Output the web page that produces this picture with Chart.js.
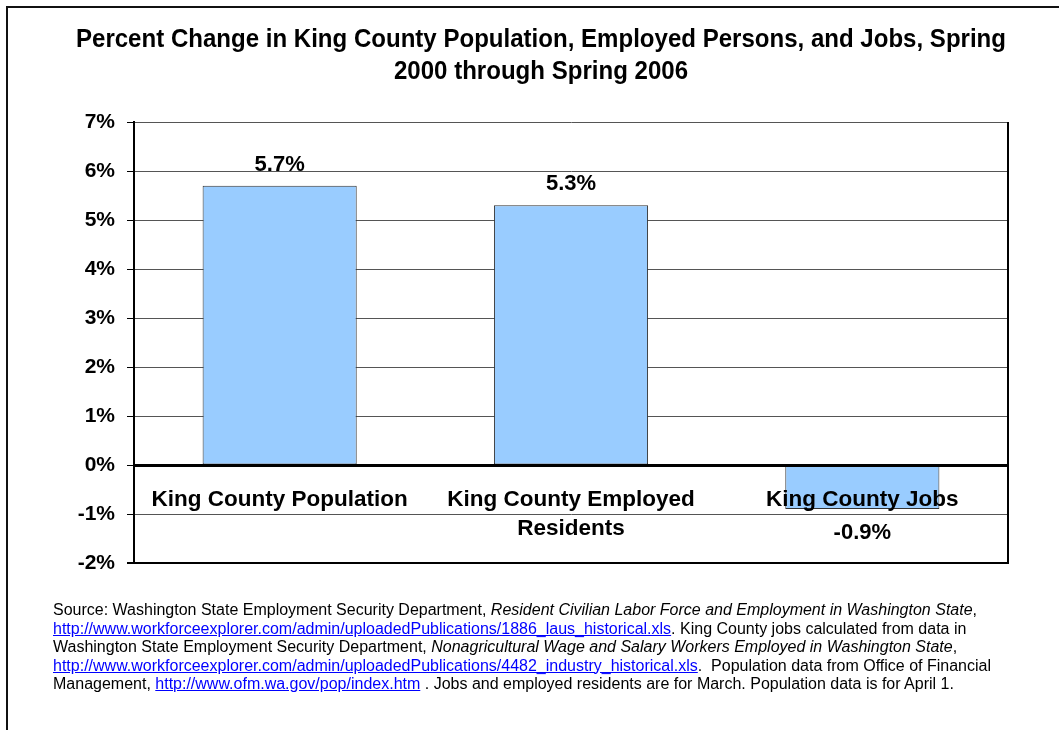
<!DOCTYPE html>
<html>
<head>
<meta charset="utf-8">
<script src="https://cdn.jsdelivr.net/npm/chart.js@4.4.1/dist/chart.umd.min.js"></script>
<style>
  html, body { margin:0; padding:0; background:#fff; width:1059px; height:730px; overflow:hidden; }
  #frame { position:absolute; left:6px; top:6px; width:1100px; height:800px; border:2px solid #111; box-sizing:border-box; }
  #chart { position:absolute; left:0; top:0; }
  #title { position:absolute; left:0; width:1082px; top:22px; text-align:center; transform:scaleX(0.925); transform-origin:541px 0;
    font-family:"Liberation Sans",Arial,sans-serif; font-weight:bold; font-size:26px; line-height:32px; color:#000; }
  #note { position:absolute; left:53px; top:601px; font-family:"Liberation Sans",Arial,sans-serif; font-size:16px; line-height:18.5px; color:#000; white-space:nowrap; }
  #note a { color:#0000ff; text-decoration:underline; }
</style>
</head>
<body>
<div id="frame"></div>
<canvas id="chart" width="1059" height="730"></canvas>
<div id="title">Percent Change in King County Population, Employed Persons, and Jobs, Spring<br>2000 through Spring 2006</div>
<div id="note">Source: Washington State Employment Security Department, <i>Resident Civilian Labor Force and Employment in Washington State</i>,<br><a href="#">http://www.workforceexplorer.com/admin/uploadedPublications/1886_laus_historical.xls</a>. King County jobs calculated from data in<br>Washington State Employment Security Department, <i>Nonagricultural Wage and Salary Workers Employed in Washington State</i>,<br><a href="#">http://www.workforceexplorer.com/admin/uploadedPublications/4482_industry_historical.xls</a>.&nbsp; Population data from Office of Financial<br>Management, <a href="#">http://www.ofm.wa.gov/pop/index.htm</a> . Jobs and employed residents are for March. Population data is for April 1.</div>
<script>
const categories = [["King County Population"], ["King County Employed", "Residents"], ["King County Jobs"]];
const percentChange = [5.7, 5.3, -0.9];
const yTickValues = [-2, -1, 0, 1, 2, 3, 4, 5, 6, 7];

const FONT = '"Liberation Sans", Arial, sans-serif';

const valueLabels = {
  id: 'valueLabels',
  afterDatasetsDraw(chart) {
    const ctx = chart.ctx;
    const meta = chart.getDatasetMeta(0);
    ctx.save();
    ctx.font = 'bold 22px ' + FONT;
    ctx.fillStyle = '#000';
    ctx.textAlign = 'center';
    ctx.textBaseline = 'middle';
    meta.data.forEach((bar, i) => {
      const v = percentChange[i];
      const y = v >= 0 ? bar.y - 21 : bar.y + 24;
      ctx.fillText(v.toFixed(1) + '%', bar.x, y);
    });
    ctx.restore();
  }
};

const frameRight = {
  id: 'frameRight',
  afterDraw(chart) {
    const {ctx, chartArea} = chart;
    ctx.save();
    ctx.strokeStyle = '#000';
    ctx.lineWidth = 2;
    ctx.beginPath();
    ctx.moveTo(chartArea.right, chartArea.top);
    ctx.lineTo(chartArea.right, chartArea.bottom + 1);
    ctx.stroke();
    ctx.restore();
  }
};

new Chart(document.getElementById('chart'), {
  type: 'bar',
  data: {
    labels: categories,
    datasets: [{
      data: percentChange,
      backgroundColor: '#99CCFF',
      borderColor: '#333',
      borderWidth: 1,
      borderSkipped: false,
      barPercentage: 0.529,
      categoryPercentage: 1
    }]
  },
  options: {
    responsive: false,
    animation: false,
    devicePixelRatio: 1,
    layout: { padding: { top: 122, bottom: 167, right: 51, left: 0 } },
    plugins: { legend: { display: false }, tooltip: { enabled: false }, title: { display: false } },
    scales: {
      x: {
        position: { y: 0 },
        grid: { display: false, drawTicks: false },
        border: { display: true, color: '#000', width: 3, z: 1 },
        ticks: {
          z: 1,
          color: '#000',
          font: { family: FONT, size: 22.5, weight: 'bold', lineHeight: 1.29 },
          padding: 20,
          maxRotation: 0,
          autoSkip: false
        }
      },
      y: {
        min: yTickValues[0],
        max: yTickValues[yTickValues.length - 1],
        afterFit(s) { s.width = 134; },
        afterBuildTicks(s) { s.ticks = yTickValues.map(v => ({ value: v })); },
        ticks: {
          stepSize: 1,
          callback: v => v + '%',
          color: '#000',
          font: { family: FONT, size: 21, weight: 'bold' },
          padding: 12
        },
        grid: {
          color: c => (c.tick && c.tick.value === -2) ? '#000' : '#555',
          lineWidth: c => (c.tick && c.tick.value === -2) ? 2 : 1,
          tickColor: '#000',
          tickLength: 7
        },
        border: { color: '#000', width: 2 }
      }
    }
  },
  plugins: [valueLabels, frameRight]
});
</script>
</body>
</html>
